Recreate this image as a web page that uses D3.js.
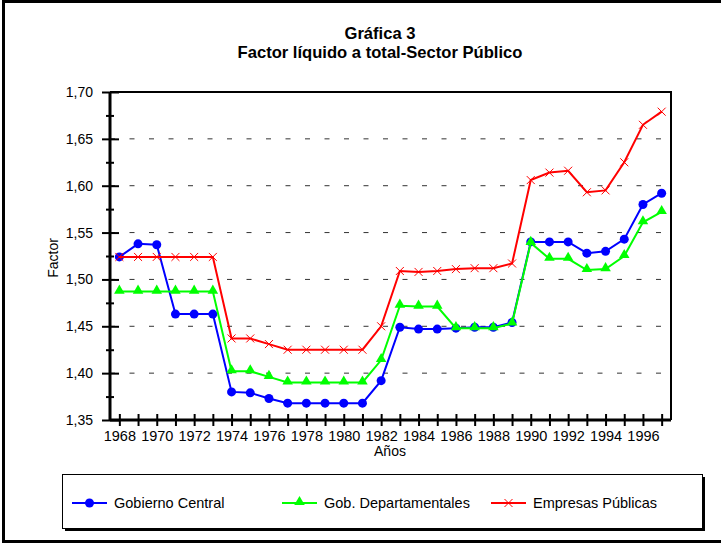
<!DOCTYPE html>
<html>
<head>
<meta charset="utf-8">
<script src="https://cdn.jsdelivr.net/npm/d3@7"></script>
<style>
  body { margin: 0; background: #fff; }
  svg { display: block; font-family: Arial, "Liberation Sans", sans-serif; }
</style>
</head>
<body>
<div id="chart"></div>
<script>
// data
var years = d3.range(1968, 1998);
var gobiernoCentral = [1.524, 1.538, 1.537, 1.463, 1.463, 1.463, 1.380, 1.379, 1.373, 1.368,
  1.368, 1.368, 1.368, 1.368, 1.392, 1.449, 1.447, 1.447, 1.448, 1.449,
  1.449, 1.454, 1.540, 1.540, 1.540, 1.528, 1.530, 1.543, 1.580, 1.592];
var gobDepartamentales = [1.487, 1.487, 1.487, 1.487, 1.487, 1.487, 1.402, 1.402, 1.396, 1.390,
  1.390, 1.390, 1.390, 1.390, 1.414, 1.472, 1.471, 1.471, 1.448, 1.448,
  1.448, 1.453, 1.539, 1.522, 1.522, 1.510, 1.511, 1.525, 1.561, 1.572];
var empresasPublicas = [1.524, 1.524, 1.524, 1.524, 1.524, 1.524, 1.437, 1.437, 1.431, 1.425,
  1.425, 1.425, 1.425, 1.425, 1.450, 1.509, 1.508, 1.509, 1.511, 1.512,
  1.512, 1.517, 1.606, 1.614, 1.616, 1.593, 1.595, 1.625, 1.665, 1.679];
var yTicks = [1.35, 1.40, 1.45, 1.50, 1.55, 1.60, 1.65, 1.70];
var yMinor = [1.375, 1.425, 1.475, 1.525, 1.575, 1.625, 1.675];
var seriesNames = ["Gobierno Central", "Gob. Departamentales", "Empresas Públicas"];

(function () {
  var W = 721, H = 544;
  var pLeft = 110, pRight = 671, pTop = 92, pBottom = 420;
  var colors = ["#0000ff", "#00ff00", "#ff0000"];

  var svg = d3.select("#chart").append("svg")
      .attr("width", W)
      .attr("height", H);

  // outer frame (right edge is cut off in the original)
  svg.append("rect")
      .attr("x", 3.5).attr("y", 1.5)
      .attr("width", 740).attr("height", 540)
      .attr("fill", "none").attr("stroke", "#000").attr("stroke-width", 3);

  var x = d3.scalePoint().domain(years).range([pLeft, pRight]).padding(0.5);
  var y = d3.scaleLinear().domain([1.35, 1.70]).range([pBottom, pTop]);

  var comma = function (d) { return d3.format(".2f")(d).replace(".", ","); };

  // title
  svg.append("text")
      .attr("x", 380).attr("y", 39)
      .attr("text-anchor", "middle")
      .attr("font-size", "16.6px").attr("font-weight", "bold")
      .text("Gráfica 3");
  svg.append("text")
      .attr("x", 380).attr("y", 58)
      .attr("text-anchor", "middle")
      .attr("font-size", "16.6px").attr("font-weight", "bold")
      .text("Factor líquido a total-Sector Público");

  // dashed grid
  svg.append("g").selectAll("line")
      .data(yTicks.slice(1, -1))
      .enter().append("line")
      .attr("x1", pLeft).attr("x2", pRight)
      .attr("y1", function (d) { return y(d); })
      .attr("y2", function (d) { return y(d); })
      .attr("stroke", "#333")
      .attr("stroke-width", 1)
      .attr("stroke-dasharray", "5,14.5");

  // frame top & right
  svg.append("path")
      .attr("d", "M" + pLeft + "," + pTop + "H" + pRight + "V" + pBottom)
      .attr("fill", "none").attr("stroke", "#000").attr("stroke-width", 2);

  // y axis
  var yAxis = svg.append("g")
      .attr("transform", "translate(" + pLeft + ",0)")
      .call(d3.axisLeft(y).tickValues(yTicks).tickFormat(comma).tickSize(8).tickPadding(9));
  yAxis.selectAll(".tick line").attr("x1", 9).attr("stroke-width", 2);
  var yMin = svg.append("g")
      .attr("transform", "translate(" + pLeft + ",0)")
      .call(d3.axisLeft(y).tickValues(yMinor).tickFormat("").tickSize(4));
  yMin.selectAll(".tick line").attr("x1", 4).attr("stroke-width", 2);
  yMin.select(".domain").remove();
  yAxis.select(".domain").attr("d", "M0," + pTop + "V" + pBottom).attr("stroke-width", 3);
  yAxis.selectAll("text").attr("font-size", "14px").attr("fill", "#000");

  // x axis
  var xAxis = svg.append("g")
      .attr("transform", "translate(0," + pBottom + ")")
      .call(d3.axisBottom(x).tickValues(years)
        .tickFormat(function (d) { return d % 2 === 0 ? d : ""; })
        .tickSize(6).tickPadding(5));
  xAxis.selectAll(".tick line").attr("y1", -6).attr("stroke-width", 2);
  xAxis.select(".domain").attr("d", "M" + pLeft + ",0H" + pRight).attr("stroke-width", 3);
  xAxis.selectAll("text").attr("font-size", "14.5px").attr("fill", "#000");

  // axis titles
  svg.append("text")
      .attr("x", 390).attr("y", 456)
      .attr("text-anchor", "middle")
      .attr("font-size", "14px")
      .text("Años");
  svg.append("text")
      .attr("transform", "translate(58,258) rotate(-90)")
      .attr("text-anchor", "middle")
      .attr("font-size", "14px")
      .text("Factor");

  // markers
  var triangle = d3.symbol().type(d3.symbolTriangle).size(48)();
  var cross = "M-4,-4L4,4M-4,4L4,-4";
  function drawMarker(g, k) {
    if (k === 0) {
      g.append("circle").attr("r", 4.5).attr("fill", colors[0]);
    } else if (k === 1) {
      g.append("path").attr("d", triangle).attr("fill", colors[1]).attr("transform", "translate(0,-1)");
    } else {
      g.append("path").attr("d", cross).attr("fill", "none")
        .attr("stroke", colors[2]).attr("stroke-width", 1);
    }
  }

  var line = d3.line()
      .x(function (d) { return x(d.year); })
      .y(function (d) { return y(d.value); });

  [gobiernoCentral, gobDepartamentales, empresasPublicas].forEach(function (vals, k) {
    var pts = years.map(function (yr, i) { return { year: yr, value: vals[i] }; });
    var g = svg.append("g");
    g.append("path")
        .datum(pts)
        .attr("d", line)
        .attr("fill", "none")
        .attr("stroke", colors[k])
        .attr("stroke-width", 2);
    g.selectAll(".m")
        .data(pts)
        .enter().append("g")
        .attr("transform", function (d) { return "translate(" + x(d.year) + "," + y(d.value) + ")"; })
        .each(function () { drawMarker(d3.select(this), k); });
  });

  // legend
  svg.append("rect")
      .attr("x", 65).attr("y", 477)
      .attr("width", 640).attr("height", 54)
      .attr("fill", "#000");
  svg.append("rect")
      .attr("x", 62.5).attr("y", 474.5)
      .attr("width", 640).attr("height", 54)
      .attr("fill", "#fff").attr("stroke", "#000").attr("stroke-width", 1);

  var legendX = [72, 282, 491];
  seriesNames.forEach(function (name, k) {
    var g = svg.append("g").attr("transform", "translate(" + legendX[k] + ",503)");
    g.append("line").attr("x1", 0).attr("x2", 35)
      .attr("stroke", colors[k]).attr("stroke-width", 2);
    drawMarker(g.append("g").attr("transform", "translate(17.5,0)"), k);
    g.append("text")
      .attr("x", 42).attr("y", 5)
      .attr("font-size", "14.5px")
      .text(name);
  });
})();
</script>
</body>
</html>
